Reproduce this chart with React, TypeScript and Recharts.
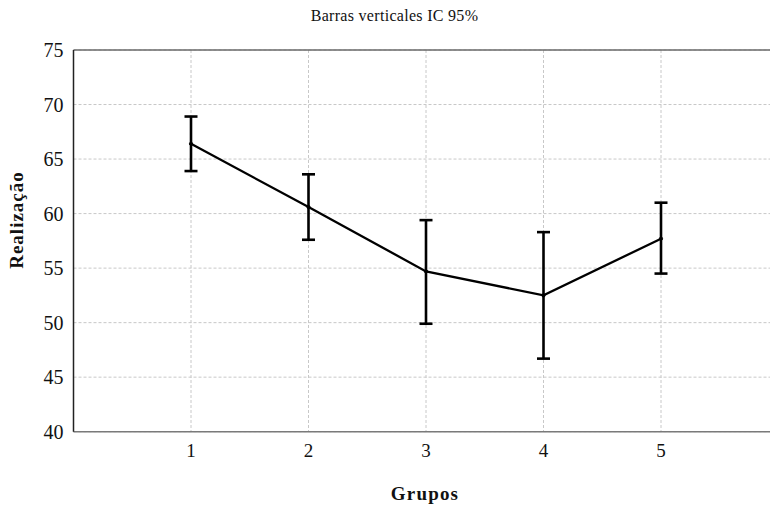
import React from "react";
import {
  LineChart, Line, XAxis, YAxis, CartesianGrid, ErrorBar, ReferenceLine
} from "recharts";

// grupos e médias com IC 95%
const grupos = [1, 2, 3, 4, 5];
const medias = [66.4, 60.6, 54.7, 52.5, 57.7];
const limInf = [63.9, 57.6, 49.9, 46.7, 54.5];
const limSup = [68.9, 63.6, 59.4, 58.3, 61.0];
const yTicks = [40, 45, 50, 55, 60, 65, 70, 75];

const data = grupos.map((g, i) => ({
  grupo: g,
  media: medias[i],
  ic: [medias[i] - limInf[i], limSup[i] - medias[i]],
}));

const FONT = "Liberation Serif";

export default function App() {
  return (
    <div style={{ position: "absolute", left: 0, top: 0, width: 770, height: 507, overflow: "hidden", background: "#fff", fontFamily: FONT }}>
      <div style={{ position: "absolute", left: 0, top: 7, width: 789, textAlign: "center", fontSize: 16, letterSpacing: 0.3, color: "#111", fontFamily: FONT }}>
        Barras verticales IC 95%
      </div>
      <LineChart width={790} height={507} data={data} margin={{ top: 50, right: 11.5, left: 0, bottom: 0 }} style={{ fontFamily: FONT }}>
        <CartesianGrid stroke="#c8c8c8" strokeDasharray="3 2" />
        <XAxis
          dataKey="grupo"
          type="number"
          domain={[0, 6]}
          ticks={grupos}
          height={75.3}
          tickLine={false}
          tickSize={6}
          tickMargin={6}
          axisLine={{ stroke: "#7a7a7a", strokeWidth: 1.5 }}
          tick={{ fill: "#111", fontSize: 19, fontFamily: FONT, style: { fontFamily: FONT } }}
          label={{
            content: () => (
              <text x={425} y={500} textAnchor="middle" style={{ fontFamily: FONT, fontWeight: "bold", fontSize: 19, letterSpacing: 1.2 }} fill="#111">
                Grupos
              </text>
            ),
          }}
        />
        {/* marcas pequenas no topo */}
        <XAxis
          xAxisId="top"
          orientation="top"
          dataKey="grupo"
          type="number"
          domain={[0, 6]}
          ticks={grupos}
          height={0}
          mirror
          axisLine={false}
          tickSize={3}
          tickLine={{ stroke: "#111", strokeWidth: 1.5 }}
          tick={() => <g />}
        />
        <YAxis
          type="number"
          domain={[40, 75]}
          ticks={yTicks}
          interval={0}
          width={73.5}
          tickLine={false}
          tickSize={4}
          tickMargin={6}
          axisLine={{ stroke: "#222", strokeWidth: 1.5 }}
          tick={{ fill: "#111", fontSize: 20, fontFamily: FONT, style: { fontFamily: FONT } }}
          label={{
            content: () => (
              <text x={23} y={220} transform="rotate(-90 23 220)" textAnchor="middle" style={{ fontFamily: FONT, fontWeight: "bold", fontSize: 19, letterSpacing: 1 }} fill="#111">
                Realização
              </text>
            ),
          }}
        />
        <ReferenceLine y={75} stroke="#6a6a6a" strokeWidth={1.5} />
        <Line
          dataKey="media"
          stroke="#000"
          strokeWidth={2.3}
          dot={{ r: 1.6, fill: "#000", stroke: "#000", strokeWidth: 1 }}
          isAnimationActive={false}
        >
          <ErrorBar dataKey="ic" width={6.5} stroke="#000" strokeWidth={2.6} direction="y" />
        </Line>
      </LineChart>
    </div>
  );
}
